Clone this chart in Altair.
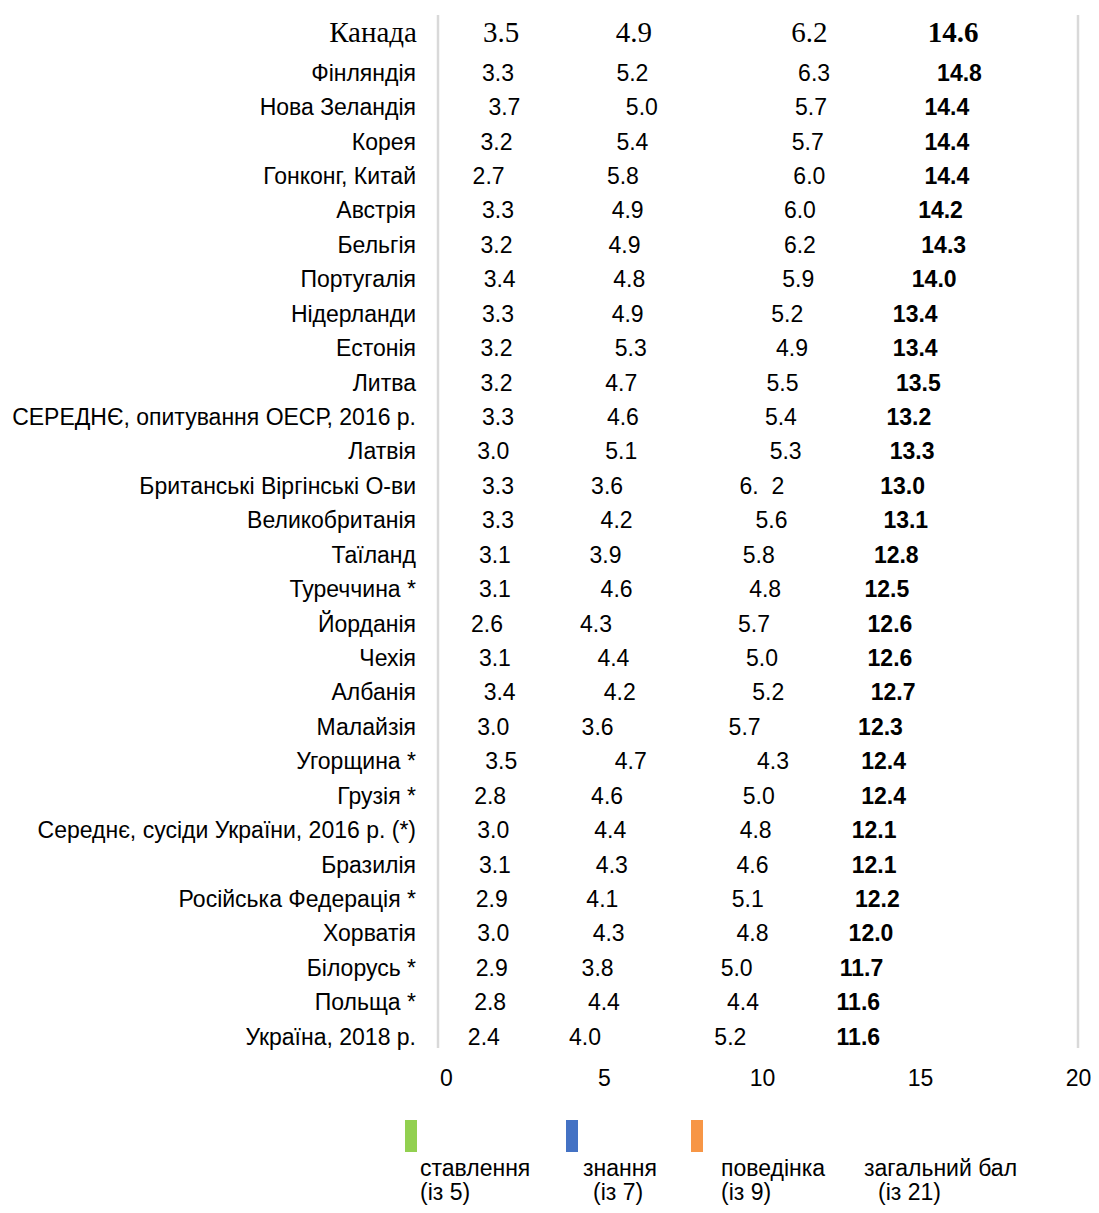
import altair as alt
import pandas as pd

# ---------------- data ----------------
countries = [
    "Канада", "Фінляндія", "Нова Зеландія", "Корея", "Гонконг, Китай",
    "Австрія", "Бельгія", "Португалія", "Нідерланди", "Естонія", "Литва",
    "СЕРЕДНЄ, опитування ОЕСР, 2016 р.", "Латвія", "Британські Віргінські О-ви",
    "Великобританія", "Таїланд", "Туреччина *", "Йорданія", "Чехія", "Албанія",
    "Малайзія", "Угорщина *", "Грузія *", "Середнє, сусіди України, 2016 р. (*)",
    "Бразилія", "Російська Федерація *", "Хорватія\u00a0", "Білорусь *",
    "Польща *", "Україна, 2018 р.",
]
attitude = [3.5, 3.3, 3.7, 3.2, 2.7, 3.3, 3.2, 3.4, 3.3, 3.2, 3.2, 3.3, 3.0, 3.3, 3.3,
            3.1, 3.1, 2.6, 3.1, 3.4, 3.0, 3.5, 2.8, 3.0, 3.1, 2.9, 3.0, 2.9, 2.8, 2.4]
knowledge = [4.9, 5.2, 5.0, 5.4, 5.8, 4.9, 4.9, 4.8, 4.9, 5.3, 4.7, 4.6, 5.1, 3.6, 4.2,
             3.9, 4.6, 4.3, 4.4, 4.2, 3.6, 4.7, 4.6, 4.4, 4.3, 4.1, 4.3, 3.8, 4.4, 4.0]
behaviour = [6.2, 6.3, 5.7, 5.7, 6.0, 6.0, 6.2, 5.9, 5.2, 4.9, 5.5, 5.4, 5.3, 6.2, 5.6,
             5.8, 4.8, 5.7, 5.0, 5.2, 5.7, 4.3, 5.0, 4.8, 4.6, 5.1, 4.8, 5.0, 4.4, 5.2]
total = [14.6, 14.8, 14.4, 14.4, 14.4, 14.2, 14.3, 14.0, 13.4, 13.4, 13.5, 13.2, 13.3, 13.0,
         13.1, 12.8, 12.5, 12.6, 12.6, 12.7, 12.3, 12.4, 12.4, 12.1, 12.1, 12.2, 12.0,
         11.7, 11.6, 11.6]

components = ["ставлення", "знання", "поведінка"]
legend_titles = ["ставлення", "знання", "поведінка", "загальний бал"]
legend_subs = ["(із 5)", "(із 7)", "(із 9)", "(із 21)"]
legend_colors = ["#92D050", "#4472C4", "#F79646", "#FFFFFF"]
x_ticks = [0, 5, 10, 15, 20]
label_overrides = {("Британські Віргінські О-ви", "поведінка"): "6.\u00a0\u00a02"}
highlight = "Канада"

# ---------------- layout (pixels, not data) ----------------
PAD_LEFT, PAD_TOP, PAD_RIGHT, PAD_BOTTOM = 430, 7, 13, 157
W, H = 640, 1033
X_DOMAIN = [-0.25, 20]
TOTAL_GAP = 1.45           # total label sits just past the end of the stack
legend_swatch_px = [405, 566, 691, None]
legend_text1_px = [420, 583, 721, 864]
legend_text2_px = [420, 593, 721, 878]
SWATCH_W = 12
SANS, SERIF = "Liberation Sans", "Liberation Serif"
FS, FS_BIG = 23, 29
LEG_FS = 23

unit = W / (X_DOMAIN[1] - X_DOMAIN[0])
page_left = 8 + PAD_LEFT
page_top = 8 + PAD_TOP
zero_px = page_left - X_DOMAIN[0] * unit


def px_to_data(px):
    return (px - zero_px) / unit


# ---------------- tables ----------------
rows = []
for i, c in enumerate(countries):
    vals = [attitude[i], knowledge[i], behaviour[i]]
    cum = 0.0
    for comp, v in zip(components, vals):
        mid = cum + v / 2
        cum += v
        rows.append(dict(country=c, kind="comp", pos=mid,
                         label=label_overrides.get((c, comp), f"{v:.1f}")))
    rows.append(dict(country=c, kind="total", pos=total[i] + TOTAL_GAP, label=f"{total[i]:.1f}"))
df = pd.DataFrame(rows)
df_c = pd.DataFrame({"country": countries})

leg_rows = []
for t, s, col, sw, t1, t2 in zip(legend_titles, legend_subs, legend_colors,
                                   legend_swatch_px, legend_text1_px, legend_text2_px):
    leg_rows.append(dict(title=t, sub=s, color=col,
                         sx=px_to_data(sw) if sw is not None else None,
                         sx2=px_to_data(sw + SWATCH_W) if sw is not None else None,
                         t1=px_to_data(t1), t2=px_to_data(t2)))
df_leg = pd.DataFrame(leg_rows)

xscale = alt.Scale(domain=X_DOMAIN, nice=False, zero=False)
yenc = alt.Y("country:N", sort=countries, axis=None)

xaxis = alt.Axis(values=x_ticks, grid=False, domain=False, ticks=False, tickSize=0,
                 labelFontSize=FS, labelFont=SANS, labelColor="#000000",
                 labelPadding=19, labelFlush=False, title=None)

base = alt.Chart(df)
not_hl = alt.datum.country != highlight
is_hl = alt.datum.country == highlight

comp_txt = base.transform_filter((alt.datum.kind == "comp") & not_hl).mark_text(
    font=SANS, fontSize=FS, color="#000000", baseline="middle", dy=7
).encode(x=alt.X("pos:Q", scale=xscale, axis=xaxis), y=yenc, text="label:N")

tot_txt = base.transform_filter((alt.datum.kind == "total") & not_hl).mark_text(
    font=SANS, fontSize=FS, fontWeight="bold", color="#000000", baseline="middle", dy=7
).encode(x=alt.X("pos:Q", scale=xscale), y=yenc, text="label:N")

hl_comp = base.transform_filter((alt.datum.kind == "comp") & is_hl).mark_text(
    font=SERIF, fontSize=FS_BIG, color="#000000", baseline="middle", dy=1
).encode(x=alt.X("pos:Q", scale=xscale), y=yenc, text="label:N")

hl_tot = base.transform_filter((alt.datum.kind == "total") & is_hl).mark_text(
    font=SERIF, fontSize=FS_BIG, fontWeight="bold", color="#000000", baseline="middle", dy=1
).encode(x=alt.X("pos:Q", scale=xscale), y=yenc, text="label:N")

cbase = alt.Chart(df_c)
ylab = cbase.transform_filter(alt.datum.country != highlight).mark_text(
    font=SANS, fontSize=FS, color="#000000", align="right", baseline="middle", dy=7
).encode(x=alt.value(-22), y=yenc, text="country:N")

ylab_hl = cbase.transform_filter(alt.datum.country == highlight).mark_text(
    font=SERIF, fontSize=FS_BIG, color="#000000", align="right", baseline="middle", dy=1
).encode(x=alt.value(-21), y=yenc, text="country:N")

edges = alt.Chart(pd.DataFrame({"edge": X_DOMAIN})).mark_rule(
    color="#D9D9D9", strokeWidth=2.5
).encode(x=alt.X("edge:Q", scale=xscale))

lbase = alt.Chart(df_leg)
leg_sw = lbase.transform_filter("isValid(datum.sx)").mark_rect().encode(
    x=alt.X("sx:Q", scale=xscale), x2="sx2:Q",
    y=alt.value(1120 - page_top), y2=alt.value(1152 - page_top),
    color=alt.Color("color:N", scale=None),
)
leg_t1 = lbase.mark_text(font=SANS, fontSize=LEG_FS, color="#000000", align="left",
                         baseline="middle").encode(
    x=alt.X("t1:Q", scale=xscale), y=alt.value(1169 - page_top), text="title:N")
leg_t2 = lbase.mark_text(font=SANS, fontSize=LEG_FS, color="#000000", align="left",
                         baseline="middle").encode(
    x=alt.X("t2:Q", scale=xscale), y=alt.value(1193 - page_top), text="sub:N")

chart = alt.layer(
    edges, comp_txt, tot_txt, hl_comp, hl_tot, ylab, ylab_hl, leg_sw, leg_t1, leg_t2
).properties(
    width=W, height=H,
    autosize=alt.AutoSizeParams(type="none"),
    padding={"left": PAD_LEFT, "top": PAD_TOP, "right": PAD_RIGHT, "bottom": PAD_BOTTOM},
).configure_view(strokeWidth=0)

chart.save("out.html", embed_options={"renderer": "svg", "actions": False})
